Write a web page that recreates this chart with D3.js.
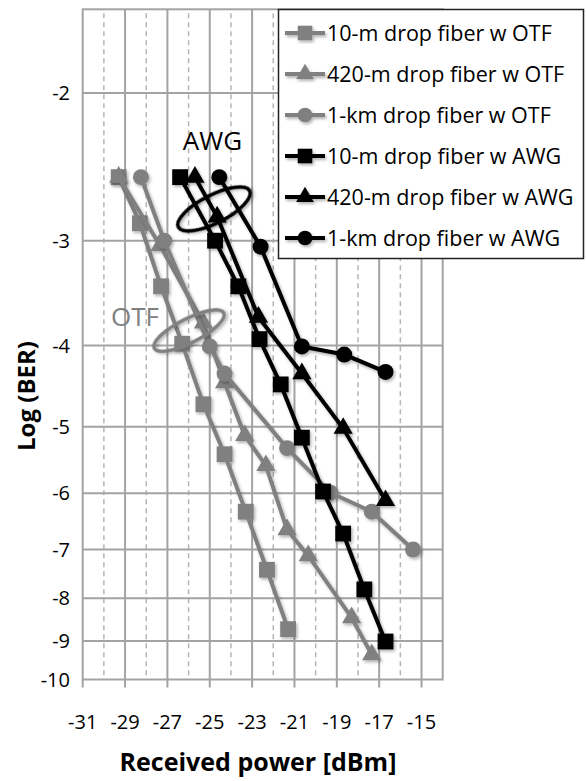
<!DOCTYPE html>
<html>
<head>
<meta charset="utf-8">
<script src="https://cdn.jsdelivr.net/npm/d3@7"></script>
<style>
  body { margin: 0; background: #fff; }
  text { font-family: "Open Sans", sans-serif; }
</style>
</head>
<body>
<script>
// BER curves, values (x = received power dBm, y = log BER)
var otf10mX  = [-29.3, -28.3, -27.3, -26.3, -25.3, -24.3, -23.3, -22.3, -21.3];
var otf10mY  = [-2.52, -2.86, -3.40, -3.98, -4.70, -5.39, -6.31, -7.40, -8.71];
var otf420mX = [-29.3, -27.35, -25.3, -24.3, -23.35, -22.35, -21.35, -20.35, -18.3, -17.35];
var otf420mY = [-2.52, -3.04, -3.76, -4.43, -5.12, -5.56, -6.63, -7.12, -8.44, -9.34];
var otf1kmX  = [-28.25, -27.15, -25.0, -24.3, -21.35, -19.3, -17.35, -15.4];
var otf1kmY  = [-2.52, -3.0, -4.01, -4.32, -5.30, -5.99, -6.31, -7.0];
var awg10mX  = [-26.4, -24.75, -23.65, -22.65, -21.65, -20.65, -19.65, -18.7, -17.7, -16.7];
var awg10mY  = [-2.52, -3.0, -3.40, -3.93, -4.45, -5.15, -5.97, -6.70, -7.81, -9.01];
var awg420mX = [-25.7, -24.65, -22.7, -20.65, -18.7, -16.7];
var awg420mY = [-2.52, -2.81, -3.70, -4.32, -5.02, -6.12];
var awg1kmX  = [-24.55, -22.6, -20.65, -18.65, -16.7];
var awg1kmY  = [-2.52, -3.05, -4.01, -4.10, -4.30];

var seriesNames = ["10-m drop fiber w OTF", "420-m drop fiber w OTF", "1-km drop fiber w OTF",
                   "10-m drop fiber w AWG", "420-m drop fiber w AWG", "1-km drop fiber w AWG"];

var xTicks = [-31, -29, -27, -25, -23, -21, -19, -17, -15];
var xMinor = [-30, -28, -26, -24, -22, -20, -18, -16];
var yTicks = [-2, -3, -4, -5, -6, -7, -8, -9, -10];

var gray = "#808080", black = "#000";

var series = [
    {name: seriesNames[0], xs: otf10mX,  ys: otf10mY,  color: gray,  sym: d3.symbolSquare},
    {name: seriesNames[1], xs: otf420mX, ys: otf420mY, color: gray,  sym: d3.symbolTriangle},
    {name: seriesNames[2], xs: otf1kmX,  ys: otf1kmY,  color: gray,  sym: d3.symbolCircle},
    {name: seriesNames[3], xs: awg10mX,  ys: awg10mY,  color: black, sym: d3.symbolSquare},
    {name: seriesNames[4], xs: awg420mX, ys: awg420mY, color: black, sym: d3.symbolTriangle},
    {name: seriesNames[5], xs: awg1kmX,  ys: awg1kmY,  color: black, sym: d3.symbolCircle}
];

var symSize = function(s) {
    if (s === d3.symbolSquare) return 250;
    if (s === d3.symbolTriangle) return 160;
    return 200;
};

var svg = d3.select("body").append("svg").attr("width", 586).attr("height", 781);

// shadow like the excel effect
var defs = svg.append("defs");
defs.append("filter").attr("id", "shd").attr("x", "-20%").attr("y", "-20%")
    .attr("width", "140%").attr("height", "140%")
    .append("feDropShadow").attr("dx", 1.5).attr("dy", 2).attr("stdDeviation", 1.5)
    .attr("flood-color", "#000").attr("flood-opacity", 0.3);

var x = d3.scaleLinear().domain([-31, -14]).range([82.7, 442.7]);
// y axis is log of -log(BER)
var yLog = d3.scaleLog().domain([1.59, 10]).range([9.3, 679.5]);
function y(v) { return yLog(-v); }

var x0 = x.range()[0], x1 = x.range()[1], y0 = yLog.range()[0], y1 = yLog.range()[1];

var grid = svg.append("g");
// dashed minor verticals
grid.selectAll(".minor").data(xMinor).enter().append("line")
    .attr("x1", function(d) { return x(d); }).attr("x2", function(d) { return x(d); })
    .attr("y1", y0 + 4).attr("y2", y1 - 4)
    .attr("stroke", "#b5b5b5").attr("stroke-width", 1.5).attr("stroke-dasharray", "5,4");
// major verticals
grid.selectAll(".major").data(xTicks.slice(1)).enter().append("line")
    .attr("x1", function(d) { return x(d); }).attr("x2", function(d) { return x(d); })
    .attr("y1", y0).attr("y2", y1)
    .attr("stroke", "#a3a3a3").attr("stroke-width", 2);
// horizontals
grid.selectAll(".hz").data(yTicks.slice(0, -1)).enter().append("line")
    .attr("x1", x0).attr("x2", x1)
    .attr("y1", function(d) { return y(d); }).attr("y2", function(d) { return y(d); })
    .attr("stroke", "#a3a3a3").attr("stroke-width", 2);
// frame
grid.append("rect").attr("x", x0).attr("y", y0).attr("width", x1 - x0).attr("height", y1 - y0)
    .attr("fill", "none").attr("stroke", "#a3a3a3").attr("stroke-width", 2);
// x ticks below axis
grid.selectAll(".xt").data(xTicks).enter().append("line")
    .attr("x1", function(d) { return x(d); }).attr("x2", function(d) { return x(d); })
    .attr("y1", y1).attr("y2", y1 + 8)
    .attr("stroke", "#a3a3a3").attr("stroke-width", 2);

// tick labels
svg.append("g").selectAll("text").data(xTicks).enter().append("text")
    .attr("x", function(d) { return x(d); }).attr("y", 729)
    .attr("text-anchor", "middle").attr("font-size", 20)
    .text(function(d) { return d; });
svg.append("g").selectAll("text").data(yTicks).enter().append("text")
    .attr("x", 70).attr("y", function(d) { return y(d); }).attr("dy", "0.35em")
    .attr("text-anchor", "end").attr("font-size", 20)
    .text(function(d) { return d; });

// axis titles
svg.append("text").attr("x", 258).attr("y", 771).attr("text-anchor", "middle")
    .attr("font-size", 25).attr("font-weight", "bold").text("Received power [dBm]");
svg.append("text").attr("transform", "translate(35,396) rotate(-90)").attr("text-anchor", "middle")
    .attr("font-size", 24).attr("font-weight", "bold").text("Log (BER)");

var line = d3.line().x(function(d) { return x(d[0]); }).y(function(d) { return y(d[1]); });

// draw series, first one at the bottom
series.forEach(function(s) {
    var pts = s.xs.map(function(v, i) { return [v, s.ys[i]]; });
    var g = svg.append("g").attr("filter", "url(#shd)");
    g.append("path").datum(pts).attr("d", line)
        .attr("fill", "none").attr("stroke", s.color).attr("stroke-width", 4);
    g.selectAll("path.m").data(pts).enter().append("path").attr("class", "m")
        .attr("transform", function(d) { return "translate(" + x(d[0]) + "," + y(d[1]) + ")"; })
        .attr("d", d3.symbol().type(s.sym).size(symSize(s.sym)))
        .attr("fill", s.color);
});

// annotations
svg.append("ellipse").attr("filter", "url(#shd)")
    .attr("transform", "translate(" + x(-24.8) + "," + y(-2.75) + ") rotate(-27)")
    .attr("rx", 40).attr("ry", 14).attr("fill", "none").attr("stroke", black).attr("stroke-width", 3.5);
svg.append("ellipse").attr("filter", "url(#shd)")
    .attr("transform", "translate(" + x(-25.98) + "," + y(-3.84) + ") rotate(-27)")
    .attr("rx", 39).attr("ry", 12).attr("fill", "none").attr("stroke", gray).attr("stroke-width", 3.5);
svg.append("text").attr("x", x(-24.87)).attr("y", y(-2.34)).attr("text-anchor", "middle")
    .attr("font-size", 26).attr("fill", black).text("AWG");
svg.append("text").attr("x", x(-28.53)).attr("y", y(-3.79)).attr("text-anchor", "middle")
    .attr("font-size", 26).attr("fill", gray).text("OTF");

// legend
var leg = svg.append("g");
leg.append("rect").attr("x", 278.5).attr("y", 9.5).attr("width", 305).attr("height", 249)
    .attr("fill", "#fff").attr("stroke", "#222").attr("stroke-width", 1.5);
series.forEach(function(s, i) {
    var ly = 33 + i * 41;
    var g = leg.append("g").attr("filter", "url(#shd)");
    g.append("line").attr("x1", 285).attr("x2", 325).attr("y1", ly).attr("y2", ly)
        .attr("stroke", s.color).attr("stroke-width", 4);
    g.append("path").attr("transform", "translate(305," + ly + ")")
        .attr("d", d3.symbol().type(s.sym).size(symSize(s.sym) * 0.85)).attr("fill", s.color);
    leg.append("text").attr("x", 327).attr("y", ly).attr("dy", "0.36em")
        .attr("font-size", 21.5).text(s.name);
});
</script>
</body>
</html>
